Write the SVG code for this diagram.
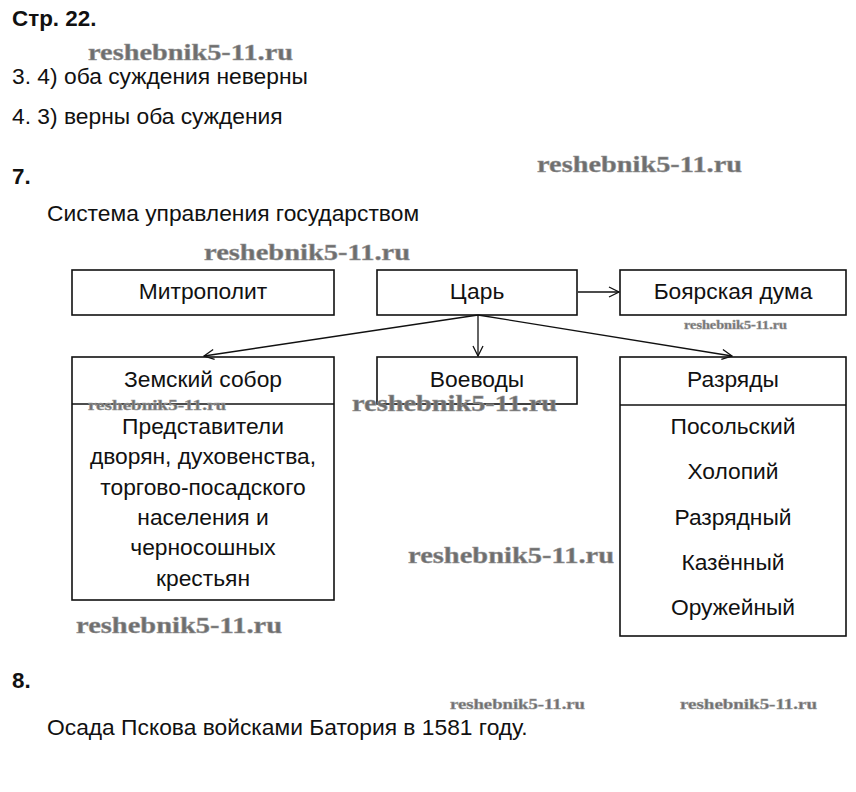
<svg xmlns="http://www.w3.org/2000/svg" width="856" height="792" viewBox="0 0 856 792">
<style>
.t{font-family:"Liberation Sans",Arial,sans-serif;font-size:22.8px;fill:#111}
.b{font-weight:bold;font-size:22.4px}
.c{text-anchor:middle}
.box{fill:none;stroke:#111;stroke-width:1.6}
.ln{stroke:#111;stroke-width:1.3;fill:none}
.wm{font-family:"Liberation Serif","Times New Roman",serif;font-weight:bold;fill:#6e6e6e;stroke:#9a9a9a;stroke-width:0.5}
</style>
<defs>
<marker id="ar" viewBox="0 0 12 12" refX="11" refY="6" markerWidth="12" markerHeight="12" markerUnits="userSpaceOnUse" orient="auto">
<polyline points="1,1 11,6 1,11" fill="none" stroke="#111" stroke-width="1.3"/>
</marker>
</defs>
<rect width="856" height="792" fill="#fff"/>
<text class="t b" x="12" y="26">Стр. 22.</text>
<text class="t" x="12" y="84">3. 4) оба суждения неверны</text>
<text class="t" x="12" y="124">4. 3) верны оба суждения</text>
<text class="t b" x="12" y="184">7.</text>
<text class="t" x="47" y="221">Система управления государством</text>
<g id="mitropolit"><rect class="box" x="72" y="270" width="262" height="45"/><text class="t c" x="203" y="299">Митрополит</text></g>
<g id="tsar"><rect class="box" x="377" y="270" width="200" height="45"/><text class="t c" x="477" y="299">Царь</text></g>
<g id="duma"><rect class="box" x="620" y="270" width="226" height="45"/><text class="t c" x="733" y="299">Боярская дума</text></g>
<g id="sobor"><rect class="box" x="72" y="357" width="262" height="243"/><line class="box" x1="72" y1="404" x2="334" y2="404"/>
<text class="t c" x="203" y="387">Земский собор</text>
<text class="t c" x="203" y="434">Представители</text>
<text class="t c" x="203" y="464">дворян, духовенства,</text>
<text class="t c" x="203" y="495">торгово-посадского</text>
<text class="t c" x="203" y="525">населения и</text>
<text class="t c" x="203" y="555">черносошных</text>
<text class="t c" x="203" y="586">крестьян</text></g>
<g id="voevody"><rect class="box" x="377" y="357" width="200" height="47"/><text class="t c" x="477" y="387">Воеводы</text></g>
<g id="razryady"><rect class="box" x="620" y="357" width="226" height="279"/><line class="box" x1="620" y1="405" x2="846" y2="405"/>
<text class="t c" x="733" y="387">Разряды</text>
<text class="t c" x="733" y="434">Посольский</text>
<text class="t c" x="733" y="479">Холопий</text>
<text class="t c" x="733" y="525">Разрядный</text>
<text class="t c" x="733" y="570">Казённый</text>
<text class="t c" x="733" y="615">Оружейный</text></g>
<g id="connectors">
<line class="ln" x1="578" y1="292" x2="619" y2="292" marker-end="url(#ar)"/>
<line class="ln" x1="478" y1="315" x2="204" y2="356" marker-end="url(#ar)"/>
<line class="ln" x1="478" y1="315" x2="478" y2="356" marker-end="url(#ar)"/>
<line class="ln" x1="478" y1="315" x2="732" y2="356" marker-end="url(#ar)"/>
</g>
<text class="t b" x="12" y="688">8.</text>
<text class="t" x="47" y="735">Осада Пскова войсками Батория в 1581 году.</text>
<g id="watermarks">
<text class="wm" x="88" y="60" font-size="24" textLength="205" lengthAdjust="spacingAndGlyphs">reshebnik5-11.ru</text>
<text class="wm" x="537" y="172" font-size="24" textLength="205" lengthAdjust="spacingAndGlyphs">reshebnik5-11.ru</text>
<text class="wm" x="204" y="260" font-size="24" textLength="206" lengthAdjust="spacingAndGlyphs">reshebnik5-11.ru</text>
<text class="wm" x="684" y="329" font-size="12" textLength="103" lengthAdjust="spacingAndGlyphs">reshebnik5-11.ru</text>
<text class="wm" x="88" y="410" font-size="15" textLength="138" lengthAdjust="spacingAndGlyphs">reshebnik5-11.ru</text>
<text class="wm" x="352" y="411" font-size="24" textLength="205" lengthAdjust="spacingAndGlyphs">reshebnik5-11.ru</text>
<text class="wm" x="408" y="563" font-size="24" textLength="206" lengthAdjust="spacingAndGlyphs">reshebnik5-11.ru</text>
<text class="wm" x="76" y="633" font-size="24" textLength="206" lengthAdjust="spacingAndGlyphs">reshebnik5-11.ru</text>
<text class="wm" x="450" y="709" font-size="15" textLength="135" lengthAdjust="spacingAndGlyphs">reshebnik5-11.ru</text>
<text class="wm" x="680" y="709" font-size="15" textLength="137" lengthAdjust="spacingAndGlyphs">reshebnik5-11.ru</text>
</g>
</svg>
